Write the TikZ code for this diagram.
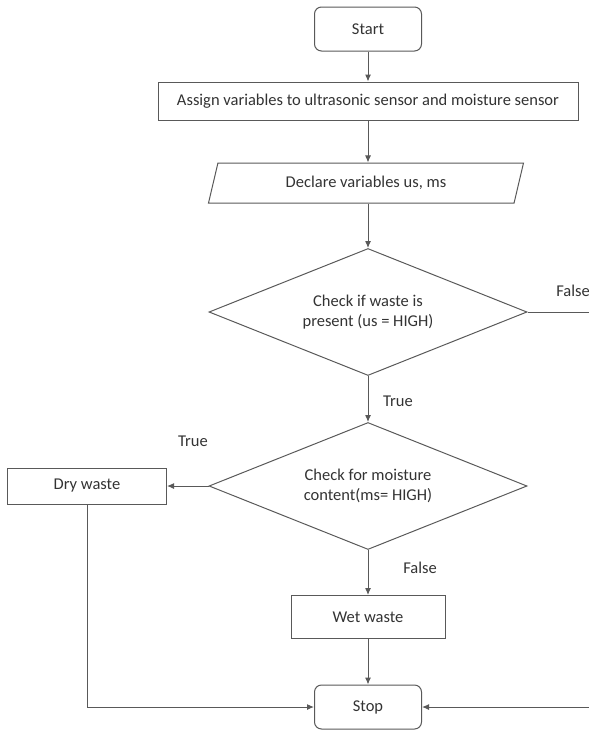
\documentclass[tikz,border=0pt]{standalone}
\usepackage{fontspec}
\setmainfont{Carlito}
\usetikzlibrary{shapes.geometric, arrows.meta}

\tikzset{
  line/.style={draw=black!65, line width=1pt},
  flow/.style={line, -{Latex[length=7pt, width=6pt]}},
  terminal/.style={line, rounded corners=7pt, fill=white, minimum width=107pt, minimum height=44pt, text=black!80},
  process/.style={line, fill=white, minimum height=38pt, text=black!80},
  io/.style={line, trapezium, trapezium left angle=65, trapezium right angle=115, trapezium stretches body, minimum width=315pt, minimum height=40pt, text=black!80},
  decision/.style={line, diamond, aspect=2.5, minimum width=318pt, minimum height=127pt, align=center, inner sep=0pt, text=black!80},
  tag/.style={text=black!80}
}

\begin{document}
\begin{tikzpicture}[x=1pt, y=-1pt, font=\fontsize{16.5}{20}\selectfont]
    \useasboundingbox (0,0) rectangle (589,731);

    % Draw nodes
    \node[terminal] (start) at (368,29) {Start};
    \node[process, minimum width=420pt] (assign) at (368,101) {Assign variables to ultrasonic sensor and moisture sensor};
    \node[io] (declare) at (366,183) {Declare variables us, ms};
    \node[decision] (check1) at (368,312) {Check if waste is\\present (us = HIGH)};
    \node[decision] (check2) at (368,486) {Check for moisture\\content(ms= HIGH)};
    \node[process, minimum width=159pt, minimum height=36pt] (dry) at (87,486) {Dry waste};
    \node[process, minimum width=154pt, minimum height=43pt] (wet) at (368,617) {Wet waste};
    \node[terminal] (stop) at (368,707) {Stop};
    \coordinate (falseend) at (589,312);
    \coordinate (loopin) at (589,707);

    % Draw connections
    \draw[flow] (start) -- (assign);
    \draw[flow] (assign) -- (declare.north -| assign);
    \draw[flow] (declare.south -| check1) -- (check1);
    \draw[line] (check1.east) -- (falseend);
    \draw[flow] (check1) -- (check2);
    \draw[flow] (check2) -- (dry);
    \draw[flow] (check2) -- (wet);
    \draw[flow] (wet) -- (stop);
    \draw[flow] (dry.south) |- (stop.west);
    \draw[flow] (loopin) -- (stop.east);

    % Labels
    \node[tag] (lfalse1) at (573,291) {False};
    \node[tag] (ltrue1) at (398,401) {True};
    \node[tag] (ltrue2) at (193,441) {True};
    \node[tag] (lfalse2) at (420,568) {False};
\end{tikzpicture}
\end{document}
